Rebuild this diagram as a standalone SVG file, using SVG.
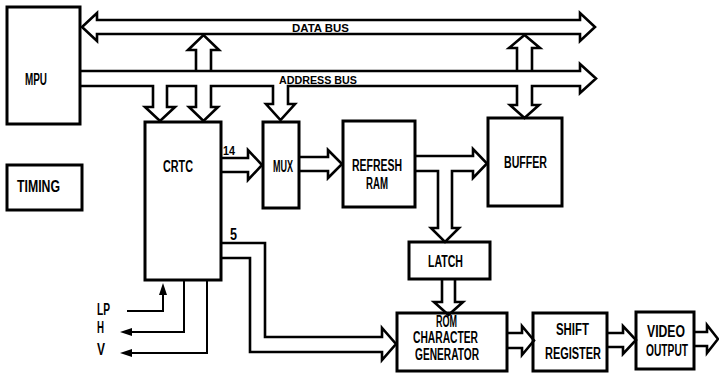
<svg xmlns="http://www.w3.org/2000/svg" width="719" height="373" viewBox="0 0 719 373">
<style>
.box{fill:none;stroke:#000;stroke-width:3}
.bus{fill:#fff;stroke:#000;stroke-width:2.6;stroke-linejoin:miter}
.wire{fill:none;stroke:#000;stroke-width:2}
.t{font-family:"Liberation Sans",Arial,sans-serif;font-weight:bold;font-size:16px;fill:#000}
.s{font-size:11px}
.n{font-size:13px}
</style>
<defs>
<marker id="ah" viewBox="0 0 12 8" refX="2" refY="4" markerWidth="12" markerHeight="8" markerUnits="userSpaceOnUse" orient="auto">
<path d="M0,0 L12,4 L0,8 Z" fill="#000"/>
</marker>
</defs>
<rect width="719" height="373" fill="#fff"/>
<g id="connectors">
<path class="bus" d="M196,71 L196,50 L188,50 L203.5,35 L219,50 L211,50 L211,71"/>
<path class="bus" d="M517,71 L517,48 L509,48 L524.5,35 L540,48 L532,48 L532,71"/>
<path class="bus" d="M97,20 L580,20 L580,13 L595,27 L580,41 L580,34 L97,34 L97,41 L82,27 L97,13 Z"/>
<path class="bus" d="M80,71 L580,71 L580,64 L596,78.5 L580,93 L580,86 L532,86 L532,105 L539,105 L524.5,118 L510,105 L517,105 L517,86 L288,86 L288,104 L295,104 L280.5,120 L266,104 L273,104 L273,86 L211,86 L211,107 L218,107 L203.5,121 L189,107 L196,107 L196,86 L167,86 L167,107 L175,107 L160,121 L145,107 L153,107 L153,86 L80,86"/>
<path class="bus" d="M221,158 L248,158 L248,150 L262,165 L248,180 L248,172 L221,172"/>
<path class="bus" d="M299,157 L328,157 L328,150 L342,164 L328,178 L328,171 L299,171"/>
<path class="bus" d="M415,156 L473,156 L473,149 L487,163.5 L473,178 L473,171 L452,171 L452,228 L459,228 L445,242 L431,228 L438,228 L438,171 L415,171"/>
<path class="bus" d="M442,279 L442,302 L434,302 L448.5,315 L463,302 L455,302 L455,279"/>
<path class="bus" d="M221,243 L265,243 L265,337 L382,337 L382,328 L396,344 L382,360 L382,352 L250,352 L250,258 L221,258"/>
<path class="bus" d="M507,333 L522,333 L522,326 L534,340.5 L522,355 L522,348 L507,348"/>
<path class="bus" d="M607,333 L623,333 L623,326 L636,340 L623,354 L623,347 L607,347"/>
<path class="bus" d="M694,332 L707,332 L707,325 L718,339 L707,353 L707,346 L694,346"/>
<polyline class="wire" points="127,311 163,311 163,293" marker-end="url(#ah)"/>
<polyline class="wire" points="184,280 184,332 130,332" marker-end="url(#ah)"/>
<polyline class="wire" points="207,280 207,353 130,353" marker-end="url(#ah)"/>
<text class="t s" x="292" y="32" textLength="57" lengthAdjust="spacingAndGlyphs">DATA BUS</text>
<text class="t s" x="279" y="84" textLength="78" lengthAdjust="spacingAndGlyphs">ADDRESS BUS</text>
<text class="t n" x="223" y="155" textLength="12" lengthAdjust="spacingAndGlyphs">14</text>
<text class="t" x="230" y="240" textLength="7" lengthAdjust="spacingAndGlyphs">5</text>
<text class="t" x="97" y="315" textLength="13" lengthAdjust="spacingAndGlyphs">LP</text>
<text class="t" x="97" y="333" textLength="7" lengthAdjust="spacingAndGlyphs">H</text>
<text class="t" x="97" y="355" textLength="8" lengthAdjust="spacingAndGlyphs">V</text>
</g>
<g id="mpu">
<rect class="box" x="7" y="7" width="73" height="117"/>
<text class="t" x="25" y="85" textLength="22" lengthAdjust="spacingAndGlyphs">MPU</text>
</g>
<g id="timing">
<rect class="box" x="7" y="165" width="75" height="45"/>
<text class="t" x="17" y="192" textLength="43" lengthAdjust="spacingAndGlyphs">TIMING</text>
</g>
<g id="crtc">
<rect class="box" x="145" y="122" width="76" height="158"/>
<text class="t" x="163" y="172" textLength="30" lengthAdjust="spacingAndGlyphs">CRTC</text>
</g>
<g id="mux">
<rect class="box" x="263" y="122" width="36" height="86"/>
<text class="t" x="273" y="172" textLength="20" lengthAdjust="spacingAndGlyphs">MUX</text>
</g>
<g id="refresh-ram">
<rect class="box" x="343" y="121" width="72" height="86"/>
<text class="t" x="352" y="171" textLength="50" lengthAdjust="spacingAndGlyphs">REFRESH</text>
<text class="t" x="366" y="189" textLength="22" lengthAdjust="spacingAndGlyphs">RAM</text>
</g>
<g id="buffer">
<rect class="box" x="488" y="118" width="74" height="88"/>
<text class="t" x="504" y="168" textLength="43" lengthAdjust="spacingAndGlyphs">BUFFER</text>
</g>
<g id="latch">
<rect class="box" x="409" y="242" width="81" height="37"/>
<text class="t" x="428" y="267" textLength="35" lengthAdjust="spacingAndGlyphs">LATCH</text>
</g>
<g id="rom">
<rect class="box" x="397" y="313" width="110" height="58"/>
<text class="t" x="436" y="327" textLength="21" lengthAdjust="spacingAndGlyphs">ROM</text>
<text class="t" x="413" y="343" textLength="65" lengthAdjust="spacingAndGlyphs">CHARACTER</text>
<text class="t" x="415" y="360" textLength="64" lengthAdjust="spacingAndGlyphs">GENERATOR</text>
</g>
<g id="shift-register">
<rect class="box" x="533" y="313" width="74" height="58"/>
<text class="t" x="556" y="335" textLength="33" lengthAdjust="spacingAndGlyphs">SHIFT</text>
<text class="t" x="545" y="359" textLength="56" lengthAdjust="spacingAndGlyphs">REGISTER</text>
</g>
<g id="video-output">
<rect class="box" x="636" y="312" width="58" height="57"/>
<text class="t" x="647" y="337" textLength="38" lengthAdjust="spacingAndGlyphs">VIDEO</text>
<text class="t" x="646" y="356" textLength="42" lengthAdjust="spacingAndGlyphs">OUTPUT</text>
</g>
</svg>
